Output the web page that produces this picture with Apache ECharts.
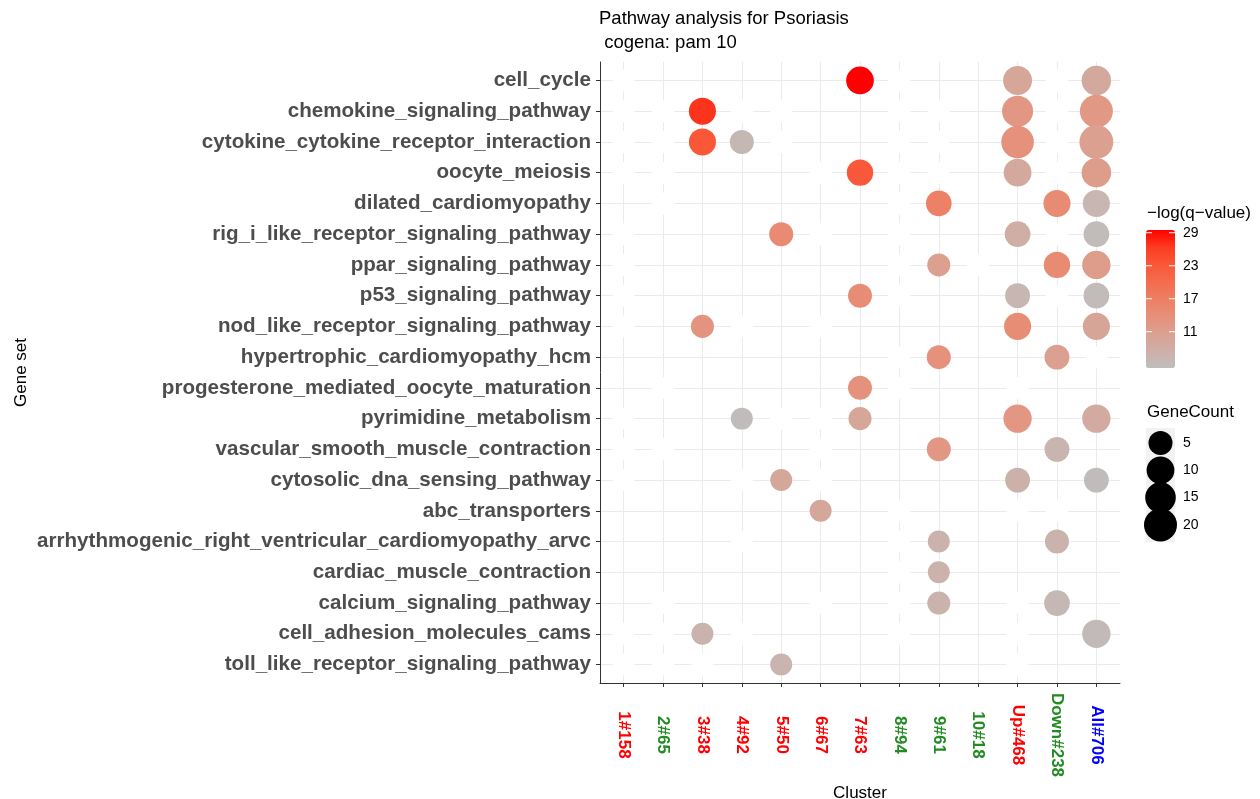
<!DOCTYPE html>
<html>
<head>
<meta charset="utf-8">
<script src="https://cdn.jsdelivr.net/npm/echarts@6/dist/echarts.min.js"></script>
<style>
  html, body { margin: 0; padding: 0; background: #fff; }
  #chart { width: 1260px; height: 799px; }
</style>
</head>
<body>
<div id="chart"></div>
<script>
var chartDom = document.getElementById("chart");
var myChart = echarts.init(chartDom);
var option;

const FONT = "'Liberation Sans', Arial, sans-serif";

const clusters = ["1#158", "2#65", "3#38", "4#92", "5#50", "6#67", "7#63",
  "8#94", "9#61", "10#18", "Up#468", "Down#238", "All#706"];
const clusterColors = ["#ff0000", "#228b22", "#ff0000", "#ff0000", "#ff0000", "#ff0000", "#ff0000",
  "#228b22", "#228b22", "#228b22", "#ff0000", "#228b22", "#0000ff"];

const geneSets = [
  "cell_cycle",
  "chemokine_signaling_pathway",
  "cytokine_cytokine_receptor_interaction",
  "oocyte_meiosis",
  "dilated_cardiomyopathy",
  "rig_i_like_receptor_signaling_pathway",
  "ppar_signaling_pathway",
  "p53_signaling_pathway",
  "nod_like_receptor_signaling_pathway",
  "hypertrophic_cardiomyopathy_hcm",
  "progesterone_mediated_oocyte_maturation",
  "pyrimidine_metabolism",
  "vascular_smooth_muscle_contraction",
  "cytosolic_dna_sensing_pathway",
  "abc_transporters",
  "arrhythmogenic_right_ventricular_cardiomyopathy_arvc",
  "cardiac_muscle_contraction",
  "calcium_signaling_pathway",
  "cell_adhesion_molecules_cams",
  "toll_like_receptor_signaling_pathway"
];

// [cluster index, gene set index, gene count, -log(q-value)]
const hits = [
  [6, 0, 10, 29.5], [10, 0, 12, 9.4], [12, 0, 13, 8.8],
  [2, 1, 9, 26.8], [10, 1, 16, 12.5], [12, 1, 20, 12.3],
  [2, 2, 9, 23.2], [3, 2, 5, 5.7], [10, 2, 19, 13.6], [12, 2, 22, 10.7],
  [6, 3, 8, 23.0], [10, 3, 10, 8.8], [12, 3, 13, 11.5],
  [8, 4, 7, 16.6], [11, 4, 9, 14.8], [12, 4, 9, 6.1],
  [4, 5, 5, 15.0], [10, 5, 7, 7.7], [12, 5, 7, 5.0],
  [8, 6, 4, 10.7], [11, 6, 8, 14.8], [12, 6, 11, 11.5],
  [6, 7, 5, 14.4], [10, 7, 6, 6.1], [12, 7, 7, 5.0],
  [2, 8, 4, 13.0], [10, 8, 9, 14.4], [12, 8, 9, 9.6],
  [8, 9, 5, 13.6], [11, 9, 6, 10.7],
  [6, 10, 5, 13.4],
  [3, 11, 3, 4.8], [6, 11, 4, 9.4], [10, 11, 11, 12.6], [12, 11, 11, 8.6],
  [8, 12, 5, 12.4], [11, 12, 6, 6.3],
  [4, 13, 3, 9.2], [10, 13, 6, 7.1], [12, 13, 6, 4.8],
  [5, 14, 3, 9.2],
  [8, 15, 3, 6.9], [11, 15, 5, 6.8],
  [8, 16, 3, 6.9],
  [8, 17, 4, 6.8], [11, 17, 7, 5.7],
  [2, 18, 3, 6.8], [12, 18, 11, 5.2],
  [4, 19, 3, 6.5]
];

// non-significant cells, drawn white: [cluster index, gene set index, gene count]
const blanks = [
  [0, 0, 3], [7, 0, 3], [11, 0, 3],
  [0, 1, 3], [1, 1, 3], [3, 1, 3], [4, 1, 3], [7, 1, 3], [8, 1, 3], [11, 1, 3],
  [0, 2, 3], [1, 2, 3], [4, 2, 3], [7, 2, 3], [8, 2, 3], [11, 2, 3],
  [0, 3, 3], [1, 3, 3], [5, 3, 3], [7, 3, 3], [8, 3, 3], [11, 3, 3],
  [1, 4, 3], [7, 4, 3],
  [0, 5, 3], [5, 5, 3], [7, 5, 3], [11, 5, 3],
  [0, 6, 3], [7, 6, 3], [9, 6, 3],
  [0, 7, 3], [7, 7, 3], [11, 7, 3],
  [0, 8, 3], [3, 8, 3], [5, 8, 3],
  [7, 9, 3], [12, 9, 3],
  [1, 10, 3], [7, 10, 3], [10, 10, 3],
  [0, 11, 3], [4, 11, 3], [5, 11, 3],
  [0, 12, 3], [1, 12, 3], [5, 12, 3],
  [0, 13, 3], [3, 13, 3], [5, 13, 3],
  [7, 14, 3], [10, 14, 3], [11, 14, 3],
  [3, 15, 3], [7, 15, 3],
  [7, 16, 3],
  [1, 17, 3], [5, 17, 3], [7, 17, 3], [10, 17, 3],
  [0, 18, 3], [1, 18, 3], [3, 18, 3], [7, 18, 3], [10, 18, 3],
  [0, 19, 3], [1, 19, 3], [2, 19, 3], [10, 19, 3]
];

const qMin = 4.4;
const qMax = 29.5;
const qTicks = [29, 23, 17, 11];
const sizeTicks = [5, 10, 15, 20];

const gradColors = ["#bebebe", "#ceafa7", "#dba090", "#e6907a", "#ed7f64",
  "#f46c4e", "#f95738", "#fc3c21", "#ff0000"];

function dotSize(count) {
  return 15 + 4.025 * Math.sqrt(count);
}

const clusterIdx = clusters.map(function (c, i) { return i; });
const setIdx = geneSets.map(function (s, i) { return i; });

// legend geometry
const barLeft = 1146, barTop = 230, barW = 29, barH = 138;
const graphics = [];
graphics.push({
  type: "text", left: 1147, top: 205,
  style: { text: "\u2212log(q\u2212value)", fontSize: 17, fontFamily: FONT, fill: "#000" }
});
qTicks.forEach(function (v) {
  var y = barTop + (qMax - v) / (qMax - qMin) * barH;
  graphics.push({ type: "line", shape: { x1: barLeft, y1: y, x2: barLeft + 6, y2: y },
    style: { stroke: "#fff", lineWidth: 1 }, z: 100 });
  graphics.push({ type: "line", shape: { x1: barLeft + barW - 6, y1: y, x2: barLeft + barW, y2: y },
    style: { stroke: "#fff", lineWidth: 1 }, z: 100 });
  graphics.push({ type: "text", x: 1183, y: y,
    style: { text: String(v), fontSize: 14, fontFamily: FONT, fill: "#000", textVerticalAlign: "middle" } });
});
graphics.push({
  type: "text", left: 1147, top: 404,
  style: { text: "GeneCount", fontSize: 17, fontFamily: FONT, fill: "#000" }
});
graphics.push({ type: "rect", shape: { x: 1146, y: 428, width: 29, height: 114 },
  style: { fill: "#f2f2f2" } });
sizeTicks.forEach(function (v, i) {
  var cy = 443 + i * 27.3;
  graphics.push({ type: "circle", shape: { cx: 1160.5, cy: cy, r: dotSize(v) / 2 },
    style: { fill: "#000" }, z: 101 });
  graphics.push({ type: "text", x: 1183, y: cy,
    style: { text: String(v), fontSize: 14, fontFamily: FONT, fill: "#000", textVerticalAlign: "middle" } });
});

option = {
  animation: false,
  backgroundColor: "#fff",
  title: {
    text: "Pathway analysis for Psoriasis\n cogena: pam 10",
    left: 599,
    top: 7,
    padding: 0,
    textStyle: { fontSize: 18.5, fontWeight: "normal", color: "#000", fontFamily: FONT, lineHeight: 24 }
  },
  grid: { left: 600, top: 62, width: 520, height: 621, outerBoundsMode: "none" },
  xAxis: {
    type: "value",
    min: -0.6,
    max: 12.6,
    name: "Cluster",
    nameLocation: "middle",
    nameGap: 94,
    nameTextStyle: { fontSize: 17, color: "#000", fontFamily: FONT },
    axisLine: { show: true, onZero: false, lineStyle: { color: "#333", width: 1 } },
    axisTick: { show: true, customValues: clusterIdx, length: 4, lineStyle: { color: "#333" } },
    axisLabel: {
      customValues: clusterIdx,
      rotate: -90,
      margin: 52,
      align: "center",
      verticalAlign: "middle",
      fontSize: 17,
      fontWeight: "bold",
      fontFamily: FONT,
      formatter: function (v) { return clusters[Math.round(v)]; },
      color: function (v) { return clusterColors[Math.round(Number(v))]; }
    },
    splitLine: { show: true, lineStyle: { color: "#ebebeb", width: 1 } }
  },
  yAxis: {
    type: "value",
    inverse: true,
    min: -0.6,
    max: 19.6,
    name: "Gene set",
    nameLocation: "middle",
    nameRotate: 90,
    nameGap: 570,
    nameTextStyle: { fontSize: 17, color: "#000", fontFamily: FONT },
    axisLine: { show: true, onZero: false, lineStyle: { color: "#333", width: 1 } },
    axisTick: { show: true, customValues: setIdx, length: 4, lineStyle: { color: "#333" } },
    axisLabel: {
      customValues: setIdx,
      margin: 9,
      fontSize: 20.6,
      fontWeight: "bold",
      fontFamily: FONT,
      color: "#4d4d4d",
      formatter: function (v) { return geneSets[Math.round(v)]; }
    },
    splitLine: { show: true, lineStyle: { color: "#ebebeb", width: 1 } }
  },
  visualMap: {
    type: "continuous",
    seriesIndex: 1,
    dimension: 3,
    min: qMin,
    max: qMax,
    calculable: false,
    left: barLeft,
    top: barTop,
    padding: 0,
    itemWidth: barW,
    itemHeight: barH,
    text: null,
    showLabel: false,
    inRange: { color: gradColors }
  },
  graphic: graphics,
  series: [
    {
      name: "blank",
      type: "scatter",
      silent: true,
      data: blanks,
      symbolSize: function (val) { return dotSize(val[2]); },
      itemStyle: { color: "#fff", opacity: 1 },
      z: 2
    },
    {
      name: "pathway",
      type: "scatter",
      data: hits,
      symbolSize: function (val) { return dotSize(val[2]); },
      itemStyle: { opacity: 1 },
      z: 3
    }
  ]
};

option && myChart.setOption(option);
</script>
</body>
</html>
